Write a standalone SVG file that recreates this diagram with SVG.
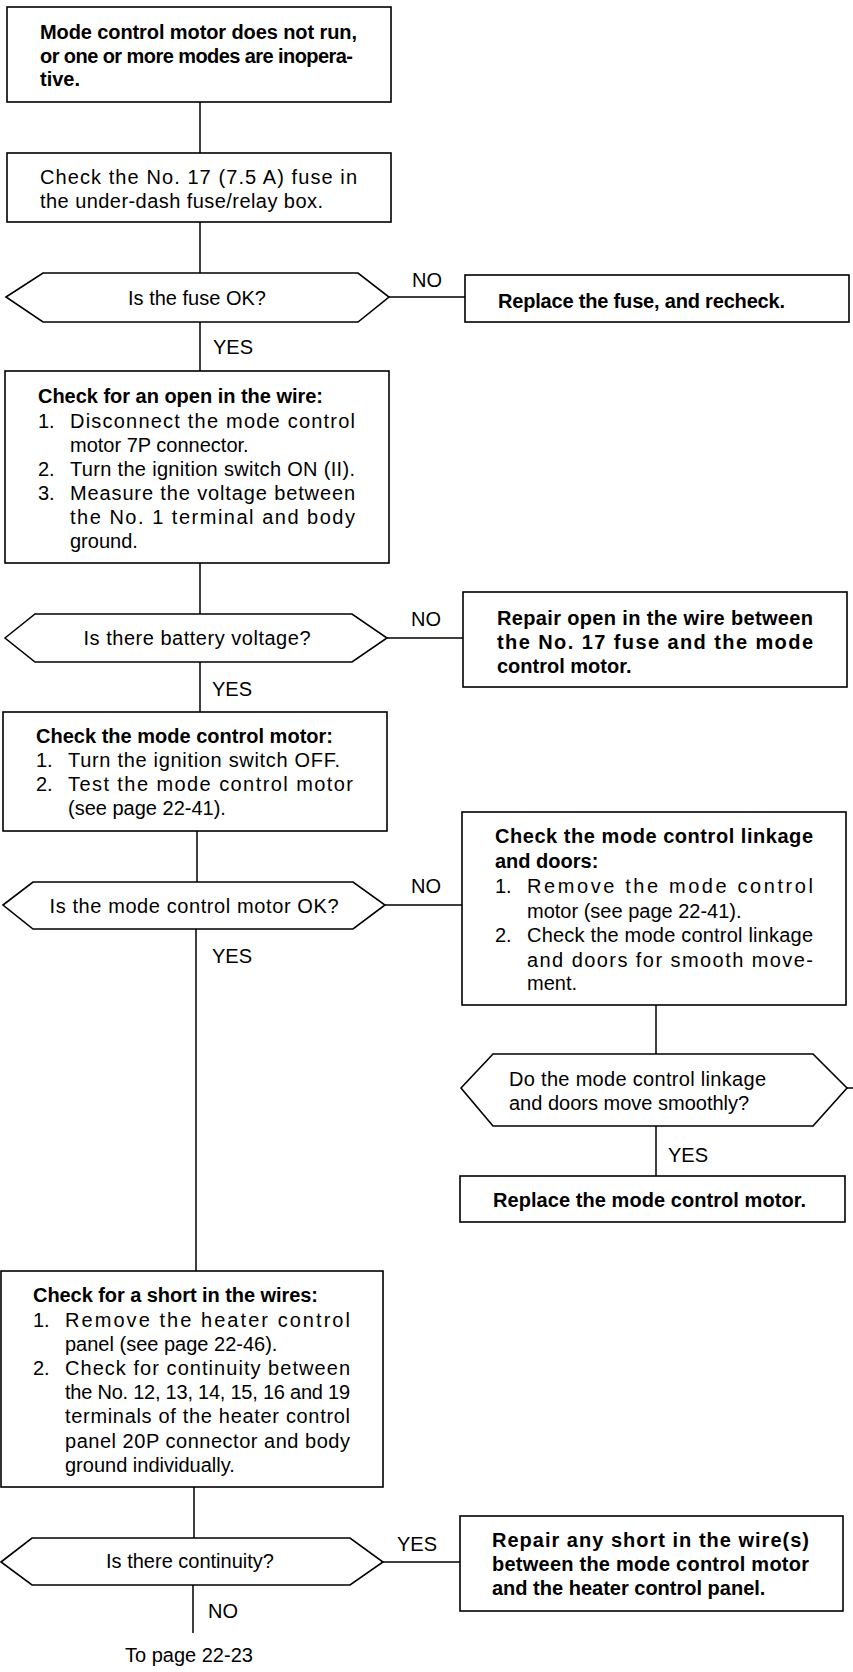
<svg xmlns="http://www.w3.org/2000/svg" width="853" height="1672" viewBox="0 0 853 1672">
<style>
.box{fill:#fff;stroke:#000;stroke-width:1.6}
.ln{stroke:#000;stroke-width:1.5;fill:none}
text{font-family:"Liberation Sans",Arial,Helvetica,sans-serif;font-size:20px;fill:#000}
.b{font-weight:bold}
.c{text-anchor:middle}
</style>
<rect width="853" height="1672" fill="#fff"/>
<g id="connectors">
<path class="ln" d="M200 102V153M200 222V273M200 322V371M200 563V614M389 297H465M387 638H463M200 662V712M197 831V882M385 905H462M196 929V1271M656 1005V1054M847 1088H853M656 1126V1176M194 1487V1538M383 1562H460M193 1585V1633"/>
<text x="412" y="287">NO</text>
<text x="213" y="354">YES</text>
<text x="411" y="626">NO</text>
<text x="212" y="696">YES</text>
<text x="411" y="893">NO</text>
<text x="212" y="963">YES</text>
<text x="668" y="1162">YES</text>
<text x="397" y="1551">YES</text>
<text x="208" y="1618">NO</text>
</g>
<g id="start">
<rect class="box" x="7" y="7" width="384" height="95"/>
<text class="b" x="40" y="39" textLength="317">Mode control motor does not run,</text>
<text class="b" x="40" y="63" textLength="313">or one or more modes are inopera-</text>
<text class="b" x="40" y="86">tive.</text>
</g>
<g id="check-fuse">
<rect class="box" x="7" y="153" width="384" height="69"/>
<text x="40" y="184" textLength="317">Check the No. 17 (7.5 A) fuse in</text>
<text x="40" y="208" textLength="283">the under-dash fuse/relay box.</text>
</g>
<g id="fuse-ok">
<polygon class="box" points="6,297 43,273 358,273 389,297 358,322 43,322"/>
<text class="c" x="197" y="305">Is the fuse OK?</text>
</g>
<g id="replace-fuse">
<rect class="box" x="465" y="275" width="384" height="47"/>
<text class="b" x="498" y="308" textLength="287">Replace the fuse, and recheck.</text>
</g>
<g id="check-open">
<rect class="box" x="5" y="371" width="384" height="192"/>
<text class="b" x="38" y="403" textLength="285">Check for an open in the wire:</text>
<text x="38" y="428">1.</text>
<text x="70" y="428" textLength="285">Disconnect the mode control</text>
<text x="70" y="452">motor 7P connector.</text>
<text x="38" y="476">2.</text>
<text x="70" y="476" textLength="285">Turn the ignition switch ON (II).</text>
<text x="38" y="500">3.</text>
<text x="70" y="500" textLength="285">Measure the voltage between</text>
<text x="70" y="524" textLength="285">the No. 1 terminal and body</text>
<text x="70" y="548">ground.</text>
</g>
<g id="battery-voltage">
<polygon class="box" points="5,638 35,614 352,614 387,638 352,662 35,662"/>
<text class="c" x="197" y="645" textLength="227">Is there battery voltage?</text>
</g>
<g id="repair-open">
<rect class="box" x="463" y="592" width="384" height="95"/>
<text class="b" x="497" y="625" textLength="316">Repair open in the wire between</text>
<text class="b" x="497" y="649" textLength="316">the No. 17 fuse and the mode</text>
<text class="b" x="497" y="673">control motor.</text>
</g>
<g id="check-motor">
<rect class="box" x="3" y="712" width="384" height="119"/>
<text class="b" x="36" y="743" textLength="297">Check the mode control motor:</text>
<text x="36" y="767">1.</text>
<text x="68" y="767" textLength="272">Turn the ignition switch OFF.</text>
<text x="36" y="791">2.</text>
<text x="68" y="791" textLength="285">Test the mode control motor</text>
<text x="68" y="815">(see page 22-41).</text>
</g>
<g id="motor-ok">
<polygon class="box" points="3,905 33,882 353,882 385,905 353,929 33,929"/>
<text class="c" x="194" y="913" textLength="289">Is the mode control motor OK?</text>
</g>
<g id="check-linkage">
<rect class="box" x="462" y="812" width="384" height="193"/>
<text class="b" x="495" y="843" textLength="318">Check the mode control linkage</text>
<text class="b" x="495" y="868">and doors:</text>
<text x="495" y="893">1.</text>
<text x="527" y="893" textLength="286">Remove the mode control</text>
<text x="527" y="918">motor (see page 22-41).</text>
<text x="495" y="942">2.</text>
<text x="527" y="942" textLength="286">Check the mode control linkage</text>
<text x="527" y="967" textLength="286">and doors for smooth move-</text>
<text x="527" y="990">ment.</text>
</g>
<g id="linkage-smooth">
<polygon class="box" points="461,1088 493,1054 813,1054 847,1088 813,1126 493,1126"/>
<text x="509" y="1086" textLength="257">Do the mode control linkage</text>
<text x="509" y="1110">and doors move smoothly?</text>
</g>
<g id="replace-motor">
<rect class="box" x="460" y="1176" width="385" height="46"/>
<text class="b" x="493" y="1207" textLength="313">Replace the mode control motor.</text>
</g>
<g id="check-short">
<rect class="box" x="1" y="1271" width="382" height="216"/>
<text class="b" x="33" y="1302" textLength="285">Check for a short in the wires:</text>
<text x="33" y="1327">1.</text>
<text x="65" y="1327" textLength="285">Remove the heater control</text>
<text x="65" y="1351">panel (see page 22-46).</text>
<text x="33" y="1375">2.</text>
<text x="65" y="1375" textLength="285">Check for continuity between</text>
<text x="65" y="1399" textLength="285">the No. 12, 13, 14, 15, 16 and 19</text>
<text x="65" y="1423" textLength="285">terminals of the heater control</text>
<text x="65" y="1448" textLength="285">panel 20P connector and body</text>
<text x="65" y="1472">ground individually.</text>
</g>
<g id="continuity">
<polygon class="box" points="1,1562 32,1538 350,1538 383,1562 350,1585 32,1585"/>
<text class="c" x="190" y="1568">Is there continuity?</text>
</g>
<g id="repair-short">
<rect class="box" x="460" y="1516" width="383" height="95"/>
<text class="b" x="492" y="1547" textLength="317">Repair any short in the wire(s)</text>
<text class="b" x="492" y="1571" textLength="317">between the mode control motor</text>
<text class="b" x="492" y="1595">and the heater control panel.</text>
</g>
<g id="to-page">
<text x="125" y="1662">To page 22-23</text>
</g>
</svg>
